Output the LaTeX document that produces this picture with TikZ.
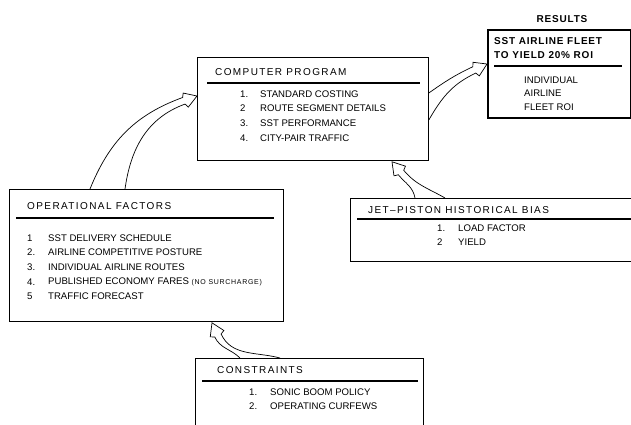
\documentclass[tikz,border=0pt]{standalone}
\usepackage{fontspec}
\setmainfont{Liberation Sans}
\newfontfamily\hdfont[LetterSpace=14]{Liberation Sans}
\newfontfamily\rsfont[LetterSpace=8]{Liberation Sans}
\usetikzlibrary{calc}
\newcommand\nosur{{\fontsize{7}{8}\selectfont\addfontfeature{LetterSpace=10}(NO SURCHARGE)}}
\tikzset{
	box/.style={draw, line width=0.8pt, inner sep=0pt, anchor=north west},
	hd/.style={inner sep=0pt, anchor=west, font=\hdfont\fontsize{10}{12}\selectfont},
	itm/.style={inner sep=0pt, anchor=west, font=\fontsize{9.6}{11}\selectfont},
	rs/.style={inner sep=0pt, anchor=west, font=\rsfont\bfseries\fontsize{10}{12}\selectfont},
	rl/.style={line width=1.2pt},
	arr/.style={line width=0.7pt}
}
% open hand-drawn arrow: left start, left out angle, right start, right out angle, tip, direction
\newcommand\fatarrow[6]{%
	\pgfmathsetmacro\bk{#6+180}\pgfmathsetmacro\lf{#6+90}\pgfmathsetmacro\rt{#6-90}%
	\draw[arr] (#1) to[out=#2,in=\bk] ($(#5)+(\bk:14)+(\lf:3.5)$) -- ($(#5)+(\bk:12)+(\lf:7.5)$) -- (#5)
		-- ($(#5)+(\bk:12)+(\rt:7.5)$) -- ($(#5)+(\bk:14)+(\rt:3.5)$) to[out=\bk,in=#4] (#3);}
\begin{document}
\begin{tikzpicture}[x=1pt,y=1pt]
	\useasboundingbox (0,0) rectangle (631,-425);
	% boxes
	\node[box, minimum width=231, minimum height=103] (comp) at (197,-57) {};
	\node[box, line width=1.6pt, minimum width=143, minimum height=88] (res) at (487,-29) {};
	\node[box, minimum width=274, minimum height=132] (opf) at (9,-189) {};
	\node[box, minimum width=295, minimum height=63] (jet) at (350,-198) {};
	\node[box, minimum width=228, minimum height=90] (cons) at (195,-358) {};

	% computer program
	\node[hd] (comp-h) at (215,-72) {COMPUTER PROGRAM};
	\draw[rl] (207,-83) -- (420,-83);
	\foreach \n/\t [count=\i] in {1./STANDARD COSTING, 2/ROUTE SEGMENT DETAILS, 3./SST PERFORMANCE, 4./CITY-PAIR TRAFFIC}{
		\node[itm] (comp-n\i) at (240,{-94-14.6*(\i-1)}) {\n};
		\node[itm] (comp-t\i) at (260,{-94-14.6*(\i-1)}) {\t};
	}

	% results
	\node[rs, anchor=center] (res-h) at (562,-19) {RESULTS};
	\node[rs] (res-1) at (494,-41) {SST AIRLINE FLEET};
	\node[rs] (res-2) at (494,-55) {TO YIELD 20\% ROI};
	\draw[rl] (494,-66) -- (622,-66);
	\foreach \t [count=\i] in {INDIVIDUAL, AIRLINE, FLEET ROI}
		\node[itm] (res-t\i) at (524,{-80-13.5*(\i-1)}) {\t};

	% operational factors
	\node[hd] (opf-h) at (27,-206) {OPERATIONAL FACTORS};
	\draw[rl] (16,-218) -- (274,-218);
	\foreach \n/\t [count=\i] in {1/SST DELIVERY SCHEDULE, 2./AIRLINE COMPETITIVE POSTURE, 3./INDIVIDUAL AIRLINE ROUTES, 4./PUBLISHED ECONOMY FARES \nosur, 5/TRAFFIC FORECAST}{
		\node[itm] (opf-n\i) at (27,{-238-14.6*(\i-1)}) {\n};
		\node[itm] (opf-t\i) at (48,{-238-14.6*(\i-1)}) {\t};
	}

	% jet-piston
	\node[hd] (jet-h) at (368,-210) {JET–PISTON HISTORICAL BIAS};
	\draw[rl] (357,-219) -- (631,-219);
	\foreach \n/\t [count=\i] in {1./LOAD FACTOR, 2/YIELD}{
		\node[itm] (jet-n\i) at (437,{-228-14.6*(\i-1)}) {\n};
		\node[itm] (jet-t\i) at (458,{-228-14.6*(\i-1)}) {\t};
	}

	% constraints
	\node[hd] (cons-h) at (217,-370) {CONSTRAINTS};
	\draw[rl] (202,-381) -- (418,-381);
	\foreach \n/\t [count=\i] in {1./SONIC BOOM POLICY, 2./OPERATING CURFEWS}{
		\node[itm] (cons-n\i) at (249,{-392-14.6*(\i-1)}) {\n};
		\node[itm] (cons-t\i) at (270,{-392-14.6*(\i-1)}) {\t};
	}

	% arrows
	\coordinate (a1l) at ($(opf.north west)+(81,0)$);
	\coordinate (a1r) at ($(opf.north west)+(116,0)$);
	\coordinate (a1t) at ($(comp.north west)+(0,-39)$);
	\fatarrow{a1l}{68}{a1r}{82}{a1t}{20}
	\coordinate (a2l) at ($(comp.north east)+(0,-36)$);
	\coordinate (a2r) at ($(comp.north east)+(0,-63)$);
	\coordinate (a2t) at ($(res.north west)+(0,-35)$);
	\fatarrow{a2l}{35}{a2r}{60}{a2t}{25}
	\coordinate (a3l) at ($(jet.north west)+(65,0)$);
	\coordinate (a3r) at ($(jet.north west)+(95,0)$);
	\coordinate (a3t) at ($(comp.south west)+(195,-1)$);
	\fatarrow{a3l}{100}{a3r}{150}{a3t}{130}
	\coordinate (a4l) at ($(cons.north west)+(45,0)$);
	\coordinate (a4r) at ($(cons.north west)+(85,0)$);
	\coordinate (a4t) at ($(opf.south west)+(203,-1)$);
	\fatarrow{a4l}{135}{a4r}{165}{a4t}{115}
\end{tikzpicture}
\end{document}
